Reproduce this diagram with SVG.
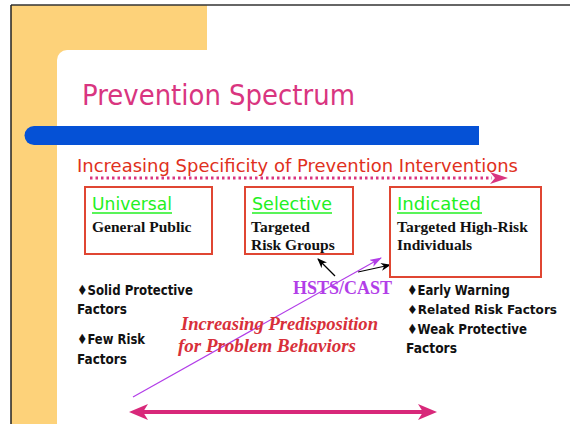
<svg xmlns="http://www.w3.org/2000/svg" width="570" height="424" viewBox="0 0 570 424">
  <style>
    .comic { font-family: "DejaVu Sans", "Noto Sans", sans-serif; }
    .serif { font-family: "Liberation Serif", "DejaVu Serif", serif; font-weight: bold; }
    .box { fill: #ffffff; stroke: #e04632; stroke-width: 2; }
    .level { fill: #22f022; font-size: 18px; }
    .desc { fill: #111111; font-size: 15.5px; }
    .bullet { fill: #111111; font-size: 14px; font-weight: bold; }
  </style>
  <defs>
    <marker id="blackHead" markerWidth="10" markerHeight="8" refX="9" refY="4" orient="auto" markerUnits="userSpaceOnUse">
      <path d="M0,0 L10,4 L0,8 L3,4 Z" fill="#000000"/>
    </marker>
    <marker id="purpleHead" markerWidth="12" markerHeight="8" refX="11" refY="4" orient="auto" markerUnits="userSpaceOnUse">
      <path d="M0,0 L12,4 L0,8 L3,4 Z" fill="#b23ee8"/>
    </marker>
  </defs>

  <!-- slide background and frame -->
  <rect x="0" y="0" width="570" height="424" fill="#ffffff"/>
  <rect x="11" y="5" width="47" height="419" fill="#fdd27a"/>
  <rect x="11" y="5" width="196" height="45" fill="#fdd27a"/>
  <rect x="56" y="48" width="14" height="14" fill="#fdd27a"/>
  <rect x="57" y="50" width="600" height="400" rx="10" fill="#ffffff"/>
  <line x1="11" y1="5" x2="570" y2="5" stroke="#333333" stroke-width="1.5"/>
  <line x1="11" y1="5" x2="11" y2="424" stroke="#222222" stroke-width="1.5"/>

  <!-- blue title rule -->
  <path d="M34,126 L479,126 L479,145 L34,145 A9.5,9.5 0 0 1 34,126 Z" fill="#0551d6"/>

  <!-- headings -->
  <text class="comic" x="82" y="105" font-size="29" fill="#d93580" textLength="273" lengthAdjust="spacingAndGlyphs">Prevention Spectrum</text>
  <text class="comic" x="77" y="172" font-size="18.5" fill="#e03020" textLength="441" lengthAdjust="spacingAndGlyphs">Increasing Specificity of Prevention Interventions</text>

  <!-- connectors -->
  <g id="connectors">
    <line x1="90" y1="178" x2="492" y2="178" stroke="#d93580" stroke-width="3" stroke-dasharray="2.5 3"/>
    <path d="M490,172 L508,178 L490,184 L495,178 Z" fill="#d93580"/>
    <line x1="335" y1="276" x2="318" y2="259" stroke="#000000" stroke-width="1.2" marker-end="url(#blackHead)"/>
    <line x1="358" y1="272" x2="390" y2="265" stroke="#000000" stroke-width="1.2" marker-end="url(#blackHead)"/>
    <line x1="133" y1="397" x2="381" y2="258" stroke="#b23ee8" stroke-width="1.2" marker-end="url(#purpleHead)"/>
    <line x1="143" y1="412" x2="423" y2="412" stroke="#d8287a" stroke-width="4"/>
    <path d="M129,412 L148,404 L143,412 L148,420 Z" fill="#d8287a"/>
    <path d="M437,412 L418,404 L423,412 L418,420 Z" fill="#d8287a"/>
  </g>

  <g id="universal">
    <rect class="box" x="85" y="187" width="127" height="67"/>
    <text class="comic level" x="92" y="210" textLength="80" lengthAdjust="spacingAndGlyphs">Universal</text>
    <line x1="92" y1="213" x2="172" y2="213" stroke="#22f022" stroke-width="1.3"/>
    <text class="serif desc" x="92" y="232">General Public</text>
  </g>

  <g id="selective">
    <rect class="box" x="245" y="187" width="108" height="67"/>
    <text class="comic level" x="252" y="210" textLength="80" lengthAdjust="spacingAndGlyphs">Selective</text>
    <line x1="252" y1="213" x2="332" y2="213" stroke="#22f022" stroke-width="1.3"/>
    <text class="serif desc" x="251" y="232">Targeted</text>
    <text class="serif desc" x="251" y="250">Risk Groups</text>
  </g>

  <g id="indicated">
    <rect class="box" x="390" y="187" width="151" height="90"/>
    <text class="comic level" x="397" y="210" textLength="84" lengthAdjust="spacingAndGlyphs">Indicated</text>
    <line x1="397" y1="213" x2="482" y2="213" stroke="#22f022" stroke-width="1.3"/>
    <text class="serif desc" x="397" y="232">Targeted High-Risk</text>
    <text class="serif desc" x="397" y="250">Individuals</text>
  </g>

  <g id="hsts-cast">
    <text class="serif" x="293" y="294" font-size="19" fill="#b23ee8" textLength="99" lengthAdjust="spacingAndGlyphs">HSTS/CAST</text>
  </g>

  <g id="low-risk-factors">
    <text class="comic bullet" x="77" y="295" textLength="116" lengthAdjust="spacingAndGlyphs">♦Solid Protective</text>
    <text class="comic bullet" x="77" y="314" textLength="50" lengthAdjust="spacingAndGlyphs">Factors</text>
    <text class="comic bullet" x="77" y="344" textLength="68" lengthAdjust="spacingAndGlyphs">♦Few Risk</text>
    <text class="comic bullet" x="77" y="364" textLength="50" lengthAdjust="spacingAndGlyphs">Factors</text>
  </g>

  <g id="high-risk-factors">
    <text class="comic bullet" x="407" y="295" textLength="103" lengthAdjust="spacingAndGlyphs">♦Early Warning</text>
    <text class="comic bullet" x="407" y="314" style="font-size:12.5px" textLength="150" lengthAdjust="spacingAndGlyphs">♦Related Risk Factors</text>
    <text class="comic bullet" x="407" y="334" textLength="120" lengthAdjust="spacingAndGlyphs">♦Weak Protective</text>
    <text class="comic bullet" x="406" y="353" textLength="51" lengthAdjust="spacingAndGlyphs">Factors</text>
  </g>

  <g id="predisposition">
    <text class="serif" x="181" y="330" font-size="18.5" font-style="italic" fill="#d8303a" textLength="197" lengthAdjust="spacingAndGlyphs">Increasing Predisposition</text>
    <text class="serif" x="178" y="352" font-size="18.5" font-style="italic" fill="#d8303a" textLength="178" lengthAdjust="spacingAndGlyphs">for Problem Behaviors</text>
  </g>
</svg>
